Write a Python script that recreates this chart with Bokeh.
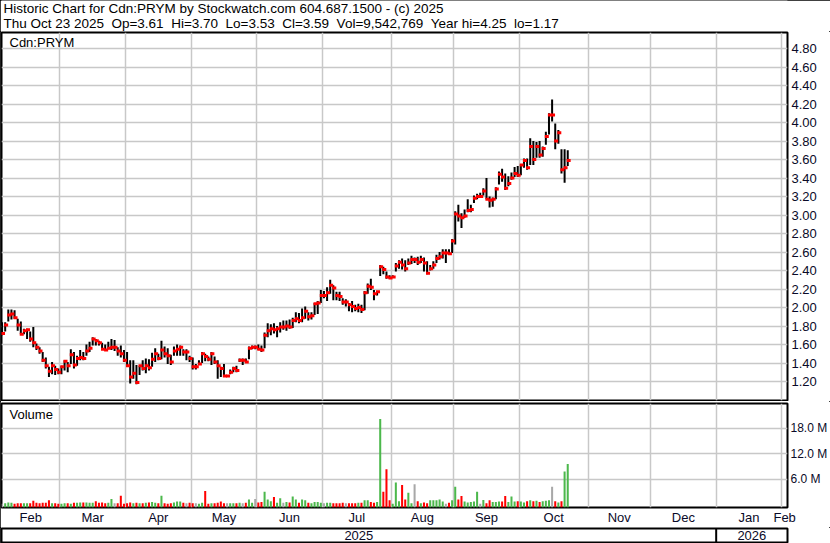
import numpy as np
from bokeh.plotting import figure
from bokeh.layouts import column
from bokeh.models import (Range1d, FixedTicker, PrintfTickFormatter, Label, Span,
                          ColumnDataSource, Grid)
from bokeh.core.properties import value
from bokeh.embed import file_html
from bokeh.resources import INLINE

# ------------------------------------------------------------------ data
title_line1 = "Historic Chart for Cdn:PRYM by Stockwatch.com 604.687.1500 - (c) 2025"
title_line2 = ("Thu Oct 23 2025 \u00a0Op=3.61 \u00a0Hi=3.70 \u00a0Lo=3.53 \u00a0Cl=3.59 "
               "\u00a0Vol=9,542,769 \u00a0Year hi=4.25 \u00a0lo=1.17")
symbol = "Cdn:PRYM"

# months shown on the date axis and their trading-day counts (Feb 2025 .. Feb 2026)
month_names = ["Feb", "Mar", "Apr", "May", "Jun", "Jul", "Aug", "Sep", "Oct", "Nov", "Dec", "Jan", "Feb"]
month_days = [19, 21, 21, 21, 21, 22, 20, 21, 22, 20, 21, 21, 19]
year_names = ["2025", "2026"]
year_months = [11, 2]          # months of each year on the axis

price_ticks = [1.2, 1.4, 1.6, 1.8, 2.0, 2.2, 2.4, 2.6, 2.8, 3.0, 3.2, 3.4, 3.6, 3.8, 4.0, 4.2, 4.4, 4.6, 4.8]
volume_ticks = [6, 12, 18]     # millions

high = [1.84, 1.84, 1.98, 1.98, 1.97, 1.88, 1.85, 1.77, 1.77, 1.74, 1.79, 1.61, 1.57, 1.52, 1.46, 1.36, 1.41, 1.37, 1.34,
        1.37, 1.43, 1.41, 1.55, 1.52, 1.48, 1.54, 1.52, 1.60, 1.63, 1.68, 1.66, 1.64, 1.62, 1.60, 1.63, 1.66, 1.65, 1.57, 1.59, 1.54,
        1.52, 1.43, 1.43, 1.38, 1.37, 1.43, 1.45, 1.44, 1.51, 1.56, 1.50, 1.64, 1.58, 1.56, 1.49, 1.58, 1.60, 1.59, 1.55, 1.55, 1.48,
        1.46, 1.39, 1.43, 1.52, 1.50, 1.47, 1.52, 1.47, 1.43, 1.36, 1.39, 1.27, 1.33, 1.36, 1.37, 1.45, 1.45, 1.45, 1.58, 1.59, 1.59,
        1.60, 1.59, 1.73, 1.83, 1.82, 1.83, 1.80, 1.84, 1.86, 1.86, 1.87, 1.89, 1.95, 1.94, 1.99, 2.01, 1.95, 1.95, 2.05, 2.07, 2.19,
        2.18, 2.22, 2.30, 2.24, 2.17, 2.17, 2.10, 2.09, 2.05, 2.07, 2.03, 2.04, 2.03, 2.18, 2.26, 2.31, 2.19, 2.18, 2.46, 2.44, 2.39, 2.35,
        2.35, 2.48, 2.51, 2.53, 2.51, 2.53, 2.56, 2.54, 2.55, 2.56, 2.54, 2.50, 2.46, 2.50, 2.57, 2.60, 2.63, 2.63, 2.63, 2.74,
        3.04, 3.11, 3.02, 3.06, 3.17, 3.11, 3.21, 3.23, 3.24, 3.29, 3.40, 3.20, 3.19, 3.30, 3.47, 3.50, 3.45, 3.42, 3.46, 3.52, 3.53,
        3.55, 3.61, 3.61, 3.83, 3.80, 3.79, 3.80, 3.74, 3.90, 4.10, 4.25, 3.99, 3.92, 3.71, 3.71, 3.70]

low = [1.70, 1.74, 1.85, 1.87, 1.88, 1.75, 1.71, 1.71, 1.66, 1.63, 1.57, 1.54, 1.50, 1.41, 1.34, 1.25, 1.28, 1.27, 1.28,
       1.28, 1.32, 1.30, 1.39, 1.34, 1.37, 1.43, 1.43, 1.48, 1.52, 1.59, 1.59, 1.59, 1.54, 1.54, 1.55, 1.54, 1.53, 1.48, 1.46, 1.41,
       1.36, 1.18, 1.23, 1.17, 1.27, 1.32, 1.29, 1.32, 1.36, 1.41, 1.43, 1.44, 1.46, 1.39, 1.38, 1.48, 1.48, 1.48, 1.48, 1.43, 1.41,
       1.33, 1.33, 1.38, 1.40, 1.42, 1.42, 1.38, 1.39, 1.23, 1.25, 1.25, 1.25, 1.28, 1.30, 1.30, 1.41, 1.38, 1.40, 1.44, 1.55, 1.55,
       1.54, 1.52, 1.56, 1.68, 1.70, 1.72, 1.68, 1.73, 1.76, 1.75, 1.77, 1.78, 1.84, 1.83, 1.84, 1.88, 1.86, 1.87, 1.92, 1.93, 2.05,
       2.10, 2.07, 2.15, 2.08, 2.08, 2.07, 2.03, 2.01, 1.96, 1.95, 1.96, 1.95, 1.94, 1.97, 2.15, 2.19, 2.08, 2.13, 2.34, 2.36, 2.31, 2.31,
       2.32, 2.39, 2.42, 2.41, 2.39, 2.46, 2.47, 2.48, 2.46, 2.48, 2.39, 2.36, 2.40, 2.42, 2.48, 2.52, 2.53, 2.48, 2.57, 2.59,
       2.68, 2.93, 2.86, 2.97, 3.03, 3.03, 3.13, 3.17, 3.19, 3.21, 3.17, 3.08, 3.09, 3.17, 3.33, 3.36, 3.27, 3.31, 3.38, 3.41, 3.41,
       3.43, 3.51, 3.49, 3.54, 3.54, 3.62, 3.62, 3.63, 3.76, 3.87, 4.01, 3.71, 3.77, 3.45, 3.35, 3.53]

close = [1.72, 1.81, 1.92, 1.93, 1.89, 1.81, 1.71, 1.75, 1.76, 1.66, 1.62, 1.57, 1.53, 1.43, 1.37, 1.31, 1.37, 1.33, 1.30,
         1.36, 1.42, 1.37, 1.49, 1.38, 1.45, 1.46, 1.45, 1.53, 1.56, 1.66, 1.64, 1.62, 1.55, 1.54, 1.56, 1.57, 1.57, 1.53, 1.50, 1.43,
         1.37, 1.25, 1.29, 1.19, 1.37, 1.34, 1.37, 1.35, 1.44, 1.50, 1.45, 1.54, 1.50, 1.48, 1.41, 1.53, 1.55, 1.57, 1.52, 1.52, 1.45,
         1.36, 1.36, 1.39, 1.50, 1.47, 1.44, 1.50, 1.41, 1.37, 1.34, 1.26, 1.26, 1.30, 1.34, 1.32, 1.43, 1.43, 1.41, 1.56, 1.57, 1.57,
         1.55, 1.54, 1.70, 1.75, 1.77, 1.76, 1.77, 1.79, 1.79, 1.80, 1.79, 1.86, 1.88, 1.86, 1.89, 1.96, 1.90, 1.91, 2.04, 2.05, 2.13,
         2.13, 2.16, 2.24, 2.21, 2.13, 2.12, 2.06, 2.06, 2.03, 2.01, 1.99, 2.00, 1.98, 2.16, 2.23, 2.22, 2.15, 2.17, 2.44, 2.41, 2.33, 2.32,
         2.33, 2.45, 2.49, 2.46, 2.42, 2.48, 2.52, 2.52, 2.49, 2.52, 2.48, 2.37, 2.42, 2.46, 2.53, 2.55, 2.59, 2.59, 2.58, 2.72,
         3.01, 2.99, 2.97, 2.99, 3.05, 3.06, 3.18, 3.20, 3.20, 3.26, 3.17, 3.16, 3.17, 3.28, 3.44, 3.41, 3.29, 3.34, 3.40, 3.45, 3.43,
         3.54, 3.59, 3.51, 3.74, 3.60, 3.74, 3.65, 3.72, 3.85, 4.08, 4.08, 3.80, 3.89, 3.49, 3.51, 3.59]

volume_m = [0.2, 0.3, 0.5, 0.4, 0.2, 0.3, 0.3, 0.3, 0.3, 0.3, 0.9, 0.4, 0.3, 0.4, 0.4, 1.0, 0.3, 0.3, 0.2,
            0.2, 0.3, 0.3, 0.2, 0.4, 0.4, 0.5, 0.5, 0.5, 0.4, 0.4, 0.8, 0.4, 0.5, 0.3, 0.4, 1.3, 0.3, 0.3, 2.1, 0.2,
            0.3, 0.5, 0.3, 0.4, 0.3, 0.3, 0.4, 0.5, 0.6, 0.4, 0.3, 2.1, 0.3, 0.2, 0.3, 0.5, 0.7, 0.7, 0.4, 0.3, 0.4,
            0.3, 0.3, 0.2, 0.4, 3.2, 0.2, 0.3, 0.3, 0.4, 0.7, 0.3, 0.3, 0.3, 0.3, 0.3, 0.4, 0.3, 0.4, 1.2, 0.4, 1.3,
            0.5, 0.6, 3.0, 1.2, 0.8, 1.8, 0.4, 1.5, 0.4, 0.6, 0.5, 1.9, 1.2, 0.4, 1.2, 1.0, 0.4, 0.3, 0.6, 0.6, 0.4,
            0.3, 0.4, 0.4, 0.3, 0.3, 0.3, 0.4, 0.3, 0.3, 0.3, 0.3, 0.4, 0.4, 1.0, 1.0, 0.6, 0.4, 0.6, 20.1, 3.0, 8.3, 1.0,
            0.2, 5.2, 0.8, 4.6, 1.2, 2.8, 0.3, 4.8, 0.8, 0.3, 0.5, 0.3, 1.0, 1.0, 1.0, 1.2, 0.7, 0.2, 0.4, 1.0,
            4.2, 1.2, 2.0, 0.7, 0.5, 0.6, 0.7, 3.0, 0.2, 1.1, 0.3, 1.0, 0.6, 0.6, 0.7, 0.7, 2.0, 0.6, 1.9, 0.7, 0.8,
            0.7, 0.5, 0.8, 1.0, 0.8, 0.9, 0.6, 0.8, 0.9, 1.0, 4.2, 0.8, 0.5, 0.8, 7.8, 9.54]

# ------------------------------------------------------------------ styling
FONT = "Liberation Sans"
TXT = "#000000"
AXTXT = "#0a0a28"
GRID = "#c8c8c8"
UP, DOWN, FLAT = "#4cb84c", "#ff0000", "#a8a8a8"
W = 830
RB = 41            # right border for price / volume labels

n = len(close)
idx = np.arange(n)
bounds = np.cumsum([0] + month_days)            # first trading-day index of each month
X0, X1 = -0.18, 251.32
x_rng = Range1d(X0, X1)
grid_x = [b - 0.5 for b in bounds[1:-1]]
m_start = [b - 0.5 for b in bounds[:-1]]
m_end = [b - 0.5 for b in bounds[1:]]
month_centers = [(max(s, X0) + min(e, X1)) / 2 for s, e in zip(m_start, m_end)]
ycum = np.cumsum([0] + year_months)
year_centers = [(max(m_start[a], X0) + min(m_end[b - 1], X1)) / 2 for a, b in zip(ycum[:-1], ycum[1:])]
year_sep = m_start[ycum[1]]

vcolor = [FLAT] + [UP if c > p else (DOWN if c < p else FLAT) for p, c in zip(close[:-1], close[1:])]
src = ColumnDataSource(dict(x=idx, xc=idx + 0.3, high=high, low=low, close=close,
                            vol=volume_m, vcolor=vcolor))


def style_frame(p):
    p.outline_line_color = "black"
    p.outline_line_width = 2
    p.outline_line_alpha = 1.0
    p.background_fill_color = "white"
    p.border_fill_color = "white"


def style_yaxis(ax, fmt, size, standoff):
    ax.formatter = PrintfTickFormatter(format=fmt)
    ax.axis_line_color = None
    ax.major_tick_line_color = None
    ax.minor_tick_line_color = None
    ax.major_tick_out = 0
    ax.major_tick_in = 0
    ax.major_label_standoff = standoff
    ax.major_label_text_font = FONT
    ax.major_label_text_font_size = size
    ax.major_label_text_color = AXTXT


# ------------------------------------------------------------------ header
h = figure(width=W, height=31, x_range=Range1d(0, W), y_range=Range1d(0, 31),
           x_axis_location=None, y_axis_location=None, toolbar_location=None,
           output_backend="svg", min_border=0)
h.grid.visible = False
h.outline_line_color = None
h.add_layout(Label(x=2, y=23.5, text=title_line1, text_font=FONT, text_font_size="13.5px",
                   text_color=TXT, text_baseline="alphabetic"))
h.add_layout(Label(x=2, y=8.5, text=title_line2, text_font=FONT, text_font_size="13.5px",
                   text_color=TXT, text_baseline="alphabetic"))

# ------------------------------------------------------------------ price panel
p = figure(width=W, height=370, x_range=x_rng, y_range=Range1d(0.995, 4.973),
           x_axis_location=None, y_axis_location="right", toolbar_location=None,
           output_backend="svg", min_border_left=1, min_border_right=RB,
           min_border_top=1, min_border_bottom=1)
style_frame(p)
p.grid.visible = False
p.yaxis.ticker = FixedTicker(ticks=price_ticks)
style_yaxis(p.yaxis[0], "%.2f", "13px", 4)
p.add_layout(Grid(dimension=0, ticker=FixedTicker(ticks=grid_x), grid_line_color=GRID, grid_line_width=1.5))
p.add_layout(Grid(dimension=1, ticker=FixedTicker(ticks=price_ticks), grid_line_color=GRID, grid_line_width=1.5))
p.segment(x0="x", y0="low", x1="x", y1="high", source=src, line_color="black", line_width=2)
p.rect(x="xc", y="close", width=4, height=3, width_units="screen", height_units="screen",
       source=src, fill_color="#ff0000", line_color=None)
p.add_layout(Label(x=X0, y=4.973, x_offset=8, y_offset=-2, text=symbol, text_font=FONT,
                   text_font_size="13px", text_color=TXT, text_baseline="top"))

# ------------------------------------------------------------------ volume panel + month axis
v = figure(width=W, height=126, x_range=x_rng, y_range=Range1d(-0.69, 23.77),
           x_axis_location="below", y_axis_location="right", toolbar_location=None,
           output_backend="svg", min_border_left=1, min_border_right=RB,
           min_border_top=2, min_border_bottom=18)
style_frame(v)
v.grid.visible = False
v.yaxis.ticker = FixedTicker(ticks=volume_ticks)
style_yaxis(v.yaxis[0], "%.1f M", "12px", 3)
xa = v.xaxis[0]
xa.ticker = FixedTicker(ticks=month_centers)
xa.major_label_overrides = {c: m for c, m in zip(month_centers, month_names)}
xa.axis_line_color = None
xa.major_tick_line_color = None
xa.minor_tick_line_color = None
xa.major_tick_out = 0
xa.major_tick_in = 0
xa.major_label_standoff = 2
xa.major_label_text_font = FONT
xa.major_label_text_font_size = "13px"
xa.major_label_text_color = AXTXT
v.add_layout(Grid(dimension=0, ticker=FixedTicker(ticks=grid_x), grid_line_color=GRID, grid_line_width=1.5))
v.add_layout(Grid(dimension=1, ticker=FixedTicker(ticks=volume_ticks), grid_line_color=GRID, grid_line_width=1.5))
v.vbar(x="x", top="vol", bottom=-0.69, width=0.65, source=src, fill_color="vcolor", line_color=None)
v.add_layout(Label(x=X0, y=23.77, x_offset=8, y_offset=-3, text="Volume", text_font=FONT,
                   text_font_size="13px", text_color=TXT, text_baseline="top"))

# ------------------------------------------------------------------ year row
d = figure(width=W, height=16, x_range=x_rng, y_range=Range1d(0, 1),
           x_axis_location=None, y_axis_location=None, toolbar_location=None,
           output_backend="svg", min_border_left=1, min_border_right=RB,
           min_border_top=1, min_border_bottom=1)
style_frame(d)
d.grid.visible = False
d.text(x=year_centers, y=[0.5] * len(year_centers), text=year_names, text_align="center",
       text_baseline="middle", text_font=value(FONT), text_font_size=value("13px"), text_color=AXTXT)
d.add_layout(Span(location=year_sep, dimension="height", line_color="black", line_width=2))

layout = column(h, p, v, d, spacing=0,
                styles={"outline": "1px solid black", "outline-offset": "-1px", "background": "white"})
open("out.html", "w").write(file_html(layout, INLINE, "Historic Chart for Cdn:PRYM"))
